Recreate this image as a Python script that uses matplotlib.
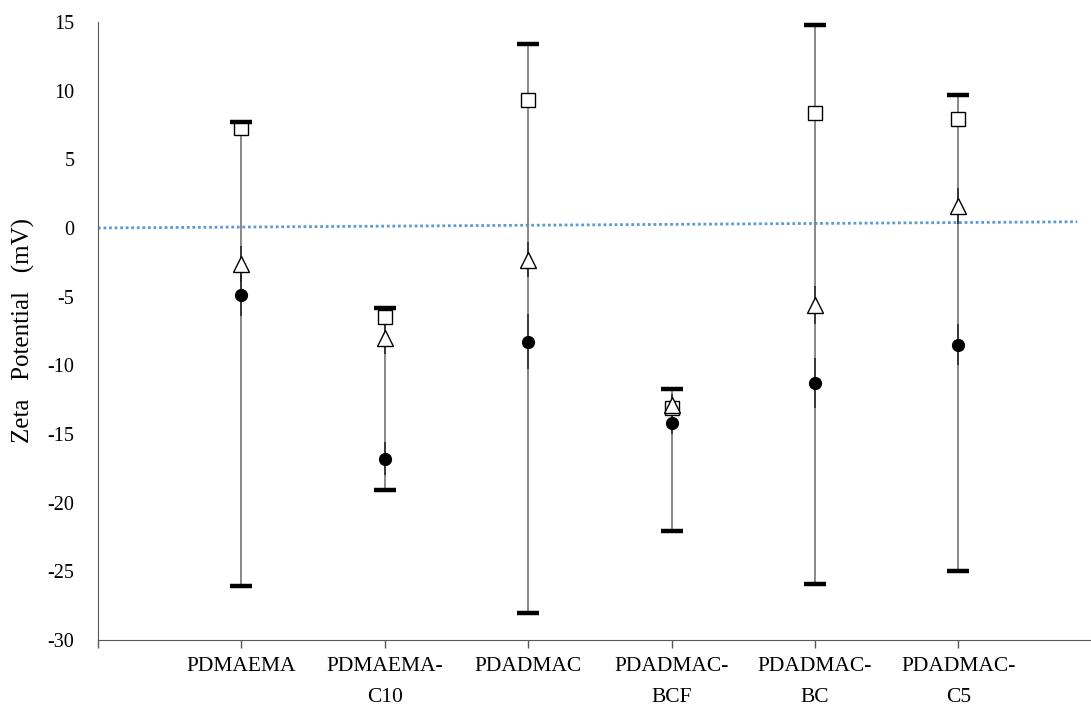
import numpy as np
import matplotlib.pyplot as plt

plt.rcParams['font.family'] = ['Liberation Serif', 'DejaVu Serif']
plt.rcParams['axes.unicode_minus'] = False

# samples
names = ["PDMAEMA", "PDMAEMA-\nC10", "PDADMAC", "PDADMAC-\nBCF", "PDADMAC-\nBC", "PDADMAC-\nC5"]

# high / low range of zeta potential (mV)
high = [7.7, -5.8, 13.4, -11.7, 14.8, 9.7]
low = [-26.1, -19.1, -28.0, -22.1, -25.9, -25.0]

# three measured series
sq = [7.3, -6.5, 9.3, -13.1, 8.4, 7.9]
tri = [-2.6, -8.0, -2.3, -12.9, -5.6, 1.6]
circ = [-4.9, -16.8, -8.3, -14.2, -11.3, -8.5]
tri_err = [1.3, 1.2, 1.3, 0.8, 1.4, 1.3]
circ_err = [1.5, 1.2, 2.0, 0.8, 1.8, 1.5]

# linear trend across the chart
trend_x = [0.0, 6.83]
trend_y = [0.0, 0.45]

x = np.arange(1, len(names) + 1)

fig = plt.figure(figsize=(10.91, 7.06), dpi=100)
ax = fig.add_axes([0.0898, 0.0935, 0.920, 0.8754])

ax.plot(trend_x, trend_y, color='#5B9BD5', lw=2.0, linestyle=(0, (1, 1)), zorder=1)

# high-low lines with thick caps
ax.vlines(x, low, high, color='#7f7f7f', lw=1.3, zorder=2)
ax.plot(x, high, linestyle='none', marker='_', ms=16, mew=3.2, color='black', zorder=5)
ax.plot(x, low, linestyle='none', marker='_', ms=16, mew=3.2, color='black', zorder=5)

ax.errorbar(x, tri, yerr=tri_err, fmt='none', ecolor='#222222', elinewidth=1.1, capsize=0, zorder=3)
ax.errorbar(x, circ, yerr=circ_err, fmt='none', ecolor='#222222', elinewidth=1.1, capsize=0, zorder=3)

ax.plot(x, sq, linestyle='none', marker='s', ms=10, mfc='white', mec='black', mew=1.0, zorder=4)
ax.plot(x, tri, linestyle='none', marker='^', ms=11, mfc='white', mec='black', mew=1.0, zorder=4)
ax.plot(x, circ, linestyle='none', marker='o', ms=8.5, mfc='black', mec='black', zorder=4)

ax.set_xlim(0, 7)
ax.set_ylim(-30, 15)
ax.set_yticks(np.arange(-30, 16, 5))
ax.set_xticks(np.arange(0, 8))
ax.set_xticklabels([''] + names + [''], fontsize=15.5, linespacing=1.85, va='top')
ax.tick_params(axis='y', length=0, labelsize=14.5, pad=17)
ax.tick_params(axis='x', length=6, width=1, color='#595959', pad=6)

ax.spines['top'].set_visible(False)
ax.spines['right'].set_visible(False)
ax.spines['left'].set_color('#595959')
ax.spines['bottom'].set_color('#595959')

ax.set_ylabel('Zeta   Potential   (mV)', fontsize=18, labelpad=9)

plt.savefig('out.png', dpi=100)
